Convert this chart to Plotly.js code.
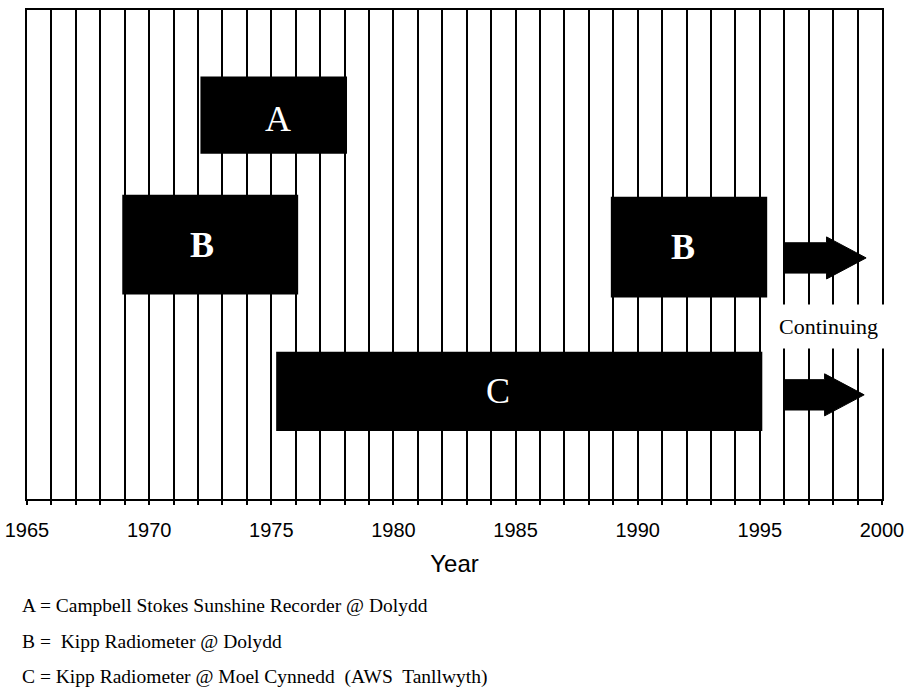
<!DOCTYPE html>
<html>
<head>
<meta charset="utf-8">
<script src="https://cdn.plot.ly/plotly-3.0.1.min.js"></script>
<style>html,body{margin:0;padding:0;background:#fff;}#chart{width:913px;height:688px;}</style>
</head>
<body>
<div id="chart"></div>
<script>
// ---- data ----
var periodLabels = ['A', 'B', 'B', 'C'];
var periodStart  = [1972.1, 1968.9, 1988.9, 1975.2];
var periodEnd    = [1978.1, 1976.1, 1995.3, 1995.1];
var periodRow    = [7.85, 5.2, 5.15, 2.2];
var periodThick  = [1.58, 2.04, 2.06, 1.62];
var labelYear    = [1975.27, 1972.16, 1991.85, 1984.28];
var labelRow     = [7.77, 5.19, 5.15, 2.21];

var arrowStart = [1996.0, 1996.0];
var arrowEnd   = [1999.35, 1999.27];
var arrowRow   = [4.93, 2.13];

var continuingText = 'Continuing';
var continuingYear = 1997.8;
var continuingRow  = 3.52;

var tickYears = [1965, 1970, 1975, 1980, 1985, 1990, 1995, 2000];
var tickText  = ['1965', '1970', '1975', '1980', '1985', '1990', '1995', '2000'];

var keyLines = [
  'A = Campbell Stokes Sunshine Recorder @ Dolydd',
  'B =  Kipp Radiometer @ Dolydd',
  'C = Kipp Radiometer @ Moel Cynnedd  (AWS  Tanllwyth)'
];

// ---- styles ----
var serif = 'Liberation Serif, Times New Roman, serif';
var sans = 'Liberation Sans, Arial, sans-serif';
var shaftHalf = 0.31, headHalf = 0.43, headLen = 1.62;

var traces = [];
traces.push({
  type: 'bar', orientation: 'h',
  y: periodRow,
  base: periodStart,
  x: periodEnd.map(function (e, i) { return e - periodStart[i]; }),
  width: periodThick,
  marker: { color: '#000', line: { width: 0 } },
  hoverinfo: 'skip', showlegend: false
});

arrowStart.forEach(function (s, i) {
  var e = arrowEnd[i], r = arrowRow[i], h = e - headLen;
  traces.push({
    type: 'scatter', mode: 'lines', fill: 'toself',
    x: [s, h, h, e, h, h, s, s],
    y: [r + shaftHalf, r + shaftHalf, r + headHalf, r, r - headHalf, r - shaftHalf, r - shaftHalf, r + shaftHalf],
    fillcolor: '#000', line: { color: '#000', width: 1 },
    hoverinfo: 'skip', showlegend: false
  });
});

var annotations = [];
periodLabels.forEach(function (t, i) {
  annotations.push({
    x: labelYear[i], y: labelRow[i], xref: 'x', yref: 'y',
    text: t, showarrow: false,
    font: { family: serif, size: 36, color: '#fff', weight: (t === 'B' ? 'bold' : 'normal') }
  });
});
annotations.push({
  x: continuingYear, y: continuingRow, xref: 'x', yref: 'y',
  text: continuingText, showarrow: false, bgcolor: '#fff', borderpad: 9,
  font: { family: serif, size: 22, color: '#000' }
});
var keyY = [-0.2168, -0.2924, -0.364];
keyLines.forEach(function (t, i) {
  annotations.push({
    x: -0.008, y: keyY[i], xref: 'paper', yref: 'paper',
    xanchor: 'left', yanchor: 'middle',
    text: t, showarrow: false,
    font: { family: serif, size: 19.5, color: '#000' }
  });
});

var layout = {
  width: 913, height: 688,
  margin: { l: 27, r: 31, t: 10, b: 189 },
  paper_bgcolor: '#fff', plot_bgcolor: '#fff',
  showlegend: false,
  barmode: 'overlay',
  xaxis: {
    range: [1965, 2000], fixedrange: true,
    tickmode: 'array', tickvals: tickYears, ticktext: tickText,
    showgrid: true, gridcolor: '#000', gridwidth: 2,
    ticks: 'outside', ticklen: 4, tickwidth: 2, tickcolor: '#000',
    ticklabelstandoff: 8,
    tickfont: { family: sans, size: 20, color: '#000' },
    minor: { dtick: 1, tick0: 1965, showgrid: true, gridcolor: '#000', gridwidth: 2, ticks: 'outside', ticklen: 4, tickcolor: '#000' },
    showline: true, linecolor: '#000', linewidth: 2, mirror: true,
    zeroline: false,
    title: { text: 'Year', font: { family: sans, size: 24, color: '#000' }, standoff: 15 }
  },
  yaxis: {
    range: [0, 10], fixedrange: true,
    showgrid: false, zeroline: false, showticklabels: false, ticks: '',
    showline: true, linecolor: '#000', linewidth: 2, mirror: true
  },
  annotations: annotations
};

Plotly.newPlot('chart', traces, layout, { displayModeBar: false, staticPlot: true });
</script>
</body>
</html>
